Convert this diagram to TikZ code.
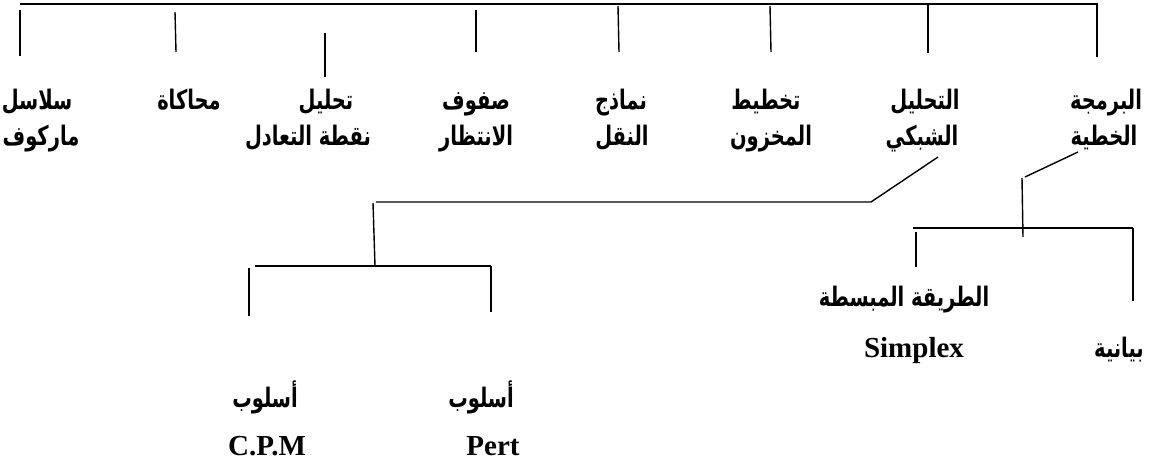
\documentclass[tikz,border=0pt]{standalone}
\usepackage{graphicx}
\usepackage{fontspec}
\setmainfont{Liberation Serif}
\newfontfamily\arabicfont[Script=Arabic]{DejaVu Sans}
\TeXXeTstate=1
\usetikzlibrary{positioning}

% Arabic words, set right to left and a bit narrower
\newcommand{\ar}[1]{\scalebox{0.76}[1.05]{\arabicfont\bfseries\beginR #1\endR}}

\tikzset{
  lbl/.style={font=\fontsize{12.8}{15}\selectfont\bfseries, inner sep=0pt, anchor=base},
  lat/.style={font=\fontsize{14.5}{17}\selectfont\bfseries, inner sep=0pt, anchor=base}
}

\begin{document}
\begin{tikzpicture}[x=0.5pt,y=-0.5pt,line width=0.7pt]
	\useasboundingbox (0,0) rectangle (1151,464);

	% top bar with its eight branches
	\draw (20,4) -- (1098,4);
	\draw (20,10) -- (20,56);
	\draw (175,12) -- (176,52);
	\draw (325,33) -- (325,77);
	\draw (476,10) -- (476,52);
	\draw (618,6) -- (619,52);
	\draw (770,6) -- (771,52);
	\draw (928,5) -- (928,53);
	\draw (1097,5) -- (1097,57);

	% first row of labels
	\node[lbl] (silsila) at (37,110) {\ar{سلاسل}};
	\node[lbl] (muhakat) at (189,110) {\ar{محاكاة}};
	\node[lbl] (tahlil) at (326,110) {\ar{تحليل}};
	\node[lbl] (sufuf) at (476,110) {\ar{صفوف}};
	\node[lbl] (namadij) at (621,110) {\ar{نماذج}};
	\node[lbl] (takhtit) at (766,110) {\ar{تخطيط}};
	\node[lbl] (shabaki) at (925,110) {\ar{التحليل}};
	\node[lbl] (barmaja) at (1106,110) {\ar{البرمجة}};

	% second row of labels
	\node[lbl] (markov) at (41,146) {\ar{ماركوف}};
	\node[lbl] (taadul) at (308,146) {\ar{نقطة التعادل}};
	\node[lbl] (intizar) at (476,146) {\ar{الانتظار}};
	\node[lbl] (naql) at (622,146) {\ar{النقل}};
	\node[lbl] (makhzun) at (771,146) {\ar{المخزون}};
	\node[lbl] (shabaki2) at (922,146) {\ar{الشبكي}};
	\node[lbl] (khattiya) at (1104,146) {\ar{الخطية}};

	% network analysis branch
	\draw (938,157) -- (871,202) -- (376,202);
	\draw (373,203) -- (375,266);
	\draw (255,266) -- (491,266);
	\draw (249,268) -- (249,316);
	\draw (491,266) -- (491,312);
	\node[lbl] (usluba) at (265,408) {\ar{أسلوب}};
	\node[lbl] (uslubb) at (481,408) {\ar{أسلوب}};
	\node[lat] (cpm) at (267,456) {C.P.M};
	\node[lat] (pert) at (493,456) {Pert};

	% linear programming branch
	\draw (1078,152) -- (1025,177);
	\draw (1022,178) -- (1023,237);
	\draw (913,228) -- (1133,228);
	\draw (916,232) -- (916,267);
	\draw (1133,228) -- (1133,301);
	\node[lbl] (mubassata) at (904,307) {\ar{الطريقة المبسطة}};
	\node[lat] (simplex) at (914,358) {Simplex};
	\node[lbl] (bayaniya) at (1119,358) {\ar{بيانية}};
\end{tikzpicture}
\end{document}
